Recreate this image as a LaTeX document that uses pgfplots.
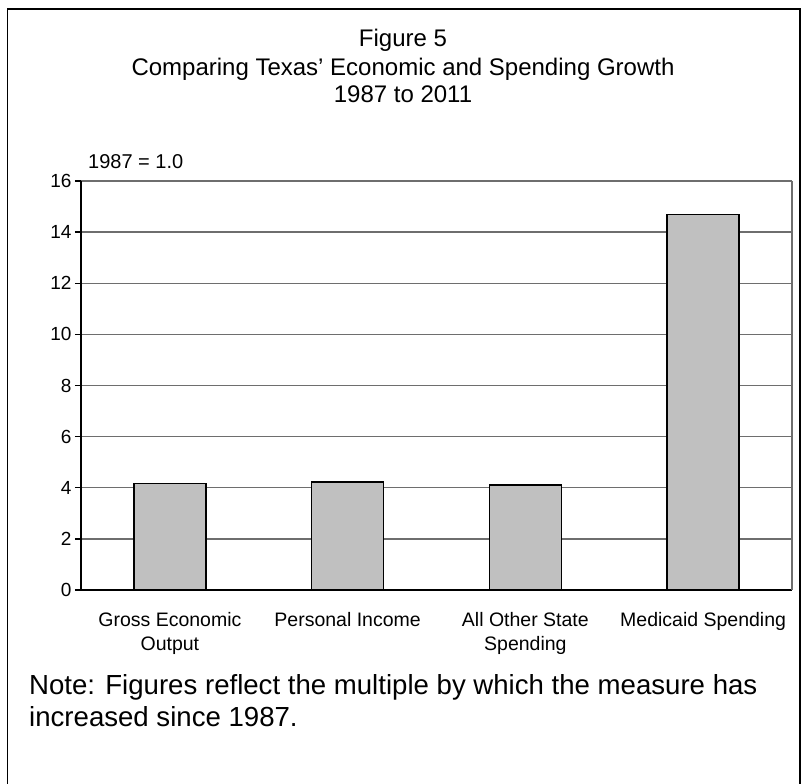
\documentclass[border=0pt]{standalone}
\usepackage{pgfplots}
\pgfplotsset{compat=1.18}
\usepackage{fontspec}
\setmainfont{Liberation Sans}
\definecolor{barfill}{HTML}{C0C0C0}
\definecolor{gridc}{HTML}{6E6E6E}
\begin{document}
\begin{tikzpicture}
\useasboundingbox (0pt,0pt) rectangle (807pt,784pt);
\draw[line width=1.5pt] (7.5pt,0pt) -- (7.5pt,775pt) -- (800pt,775pt) -- (800pt,0pt);
\node[anchor=base, font=\fontsize{24}{26.5}\selectfont] at (403pt,737pt) {Figure 5};
\node[anchor=base, font=\fontsize{24}{26.5}\selectfont] at (403pt,708pt) {Comparing Texas’ Economic and Spending Growth};
\node[anchor=base, font=\fontsize{24}{26.5}\selectfont] at (403pt,681pt) {1987 to 2011};
\node[anchor=base west, inner sep=0pt, font=\fontsize{20}{22}\selectfont] at (88pt,615pt) {1987 = 1.0};
\node[anchor=base west, inner sep=0pt, align=left, font=\fontsize{27.6}{32}\selectfont] at (29pt,57pt) {Note: Figures reflect the multiple by which the measure has\\increased since 1987.};
\begin{axis}[
  at={(81pt,194pt)}, anchor=south west,
  scale only axis, width=711pt, height=409pt,
  xmin=-0.5, xmax=3.5, ymin=0, ymax=16,
  axis x line*=bottom, axis y line*=left,
  axis line style={line width=1.3pt, black},
  ytick={0,2,...,16},
  ymajorgrids, grid style={gridc, line width=1.3pt},
  tick align=outside,
  major tick length=6pt,
  tick style={black, line width=1.3pt},
  yticklabel style={font=\fontsize{19}{21}\selectfont},
  /pgf/number format/assume math mode=true,
  xtick={0,1,2,3},
  xticklabels={{Gross Economic\\Output},{Personal Income},{All Other State\\Spending},{Medicaid Spending}},
  xticklabel style={align=center, font=\fontsize{19.5}{24}\selectfont, yshift=-13pt},
  x tick style={draw=none},
  minor xtick={-0.5,0.5,1.5,2.5,3.5},
  minor tick length=8pt,
  minor x tick style={black, line width=1.3pt},
  clip=false,
]
\draw[gridc, line width=1.3pt] (rel axis cs:1,0) -- (rel axis cs:1,1);
\addplot[ybar, bar width=72pt, fill=barfill, draw=black, line width=1.3pt] coordinates {
  (0,4.17) (1,4.23) (2,4.11) (3,14.68)
};
\end{axis}
\end{tikzpicture}
\end{document}
